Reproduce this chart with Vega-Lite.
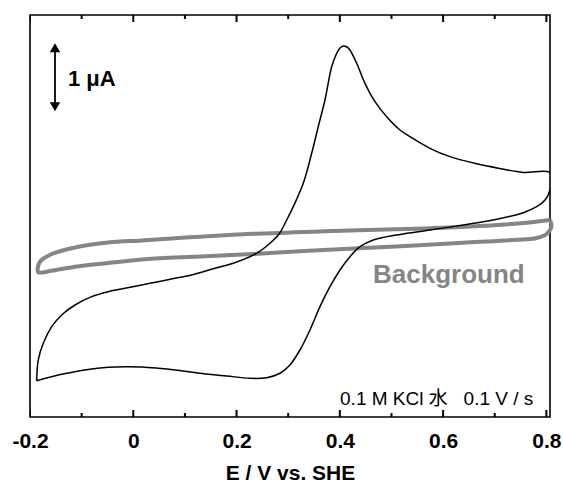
{
  "$schema": "https://vega.github.io/schema/vega-lite/v6.json",
  "width": 520,
  "height": 402,
  "autosize": {"type": "none"},
  "padding": {"left": 30, "top": 15, "right": 13, "bottom": 66},
  "background": "white",
  "config": {
    "font": "Liberation Sans",
    "view": {"stroke": "#000", "strokeWidth": 1.6},
    "axis": {"domain": false, "grid": false}
  },
  "datasets": {
    "cv": [
      {"o": 1, "E": -0.1871, "I": -1.822}, {"o": 2, "E": -0.1840, "I": -1.522}, {"o": 3, "E": -0.1743, "I": -1.280},
      {"o": 4, "E": -0.1580, "I": -1.039}, {"o": 5, "E": -0.1387, "I": -0.870}, {"o": 6, "E": -0.1129, "I": -0.725},
      {"o": 7, "E": -0.0806, "I": -0.604}, {"o": 8, "E": -0.0484, "I": -0.532}, {"o": 9, "E": -0.0161, "I": -0.483},
      {"o": 10, "E": 0.0163, "I": -0.435}, {"o": 11, "E": 0.0484, "I": -0.387}, {"o": 12, "E": 0.0808, "I": -0.338},
      {"o": 13, "E": 0.1131, "I": -0.290}, {"o": 14, "E": 0.1582, "I": -0.193}, {"o": 15, "E": 0.1936, "I": -0.120},
      {"o": 16, "E": 0.2389, "I": 0.025}, {"o": 17, "E": 0.2647, "I": 0.170}, {"o": 18, "E": 0.2822, "I": 0.304},
      {"o": 19, "E": 0.2971, "I": 0.507}, {"o": 20, "E": 0.3098, "I": 0.700}, {"o": 21, "E": 0.3292, "I": 1.039},
      {"o": 22, "E": 0.3455, "I": 1.474}, {"o": 23, "E": 0.3582, "I": 1.859}, {"o": 24, "E": 0.3712, "I": 2.246},
      {"o": 25, "E": 0.3842, "I": 2.729}, {"o": 26, "E": 0.3939, "I": 2.923}, {"o": 27, "E": 0.4003, "I": 3.000},
      {"o": 28, "E": 0.4067, "I": 3.029}, {"o": 29, "E": 0.4138, "I": 3.014}, {"o": 30, "E": 0.4196, "I": 2.971},
      {"o": 31, "E": 0.4326, "I": 2.778}, {"o": 32, "E": 0.4487, "I": 2.488}, {"o": 33, "E": 0.4681, "I": 2.222},
      {"o": 34, "E": 0.4907, "I": 2.004}, {"o": 35, "E": 0.5165, "I": 1.812}, {"o": 36, "E": 0.5358, "I": 1.714},
      {"o": 37, "E": 0.5745, "I": 1.546}, {"o": 38, "E": 0.6133, "I": 1.425}, {"o": 39, "E": 0.6650, "I": 1.322},
      {"o": 40, "E": 0.7101, "I": 1.254}, {"o": 41, "E": 0.7552, "I": 1.196}, {"o": 42, "E": 0.8069, "I": 1.193},
      {"o": 43, "E": 0.8069, "I": 0.942}, {"o": 44, "E": 0.7974, "I": 0.797}, {"o": 45, "E": 0.7812, "I": 0.700},
      {"o": 46, "E": 0.7552, "I": 0.613}, {"o": 47, "E": 0.7037, "I": 0.517}, {"o": 48, "E": 0.6390, "I": 0.435},
      {"o": 49, "E": 0.5746, "I": 0.362}, {"o": 50, "E": 0.5101, "I": 0.290}, {"o": 51, "E": 0.4648, "I": 0.217},
      {"o": 52, "E": 0.4390, "I": 0.120}, {"o": 53, "E": 0.4196, "I": -0.025}, {"o": 54, "E": 0.4003, "I": -0.217},
      {"o": 55, "E": 0.3809, "I": -0.459}, {"o": 56, "E": 0.3615, "I": -0.749}, {"o": 57, "E": 0.3422, "I": -1.087},
      {"o": 58, "E": 0.3228, "I": -1.377}, {"o": 59, "E": 0.3034, "I": -1.594}, {"o": 60, "E": 0.2841, "I": -1.714},
      {"o": 61, "E": 0.2583, "I": -1.778}, {"o": 62, "E": 0.2260, "I": -1.787}, {"o": 63, "E": 0.1809, "I": -1.754},
      {"o": 64, "E": 0.1292, "I": -1.714}, {"o": 65, "E": 0.0808, "I": -1.667}, {"o": 66, "E": 0.0484, "I": -1.642},
      {"o": 67, "E": 0.0163, "I": -1.623}, {"o": 68, "E": -0.0161, "I": -1.619}, {"o": 69, "E": -0.0484, "I": -1.628},
      {"o": 70, "E": -0.0806, "I": -1.652}, {"o": 71, "E": -0.1129, "I": -1.691}, {"o": 72, "E": -0.1452, "I": -1.739},
      {"o": 73, "E": -0.1871, "I": -1.822}
    ],
    "bg": [
      {"o": 1, "E": 0.8069, "I": 0.507}, {"o": 2, "E": 0.7508, "I": 0.459}, {"o": 3, "E": 0.6462, "I": 0.410},
      {"o": 4, "E": 0.5077, "I": 0.372}, {"o": 5, "E": 0.3685, "I": 0.343}, {"o": 6, "E": 0.2299, "I": 0.307},
      {"o": 7, "E": 0.1292, "I": 0.265}, {"o": 8, "E": 0.0808, "I": 0.242}, {"o": 9, "E": 0.0163, "I": 0.210},
      {"o": 10, "E": -0.0484, "I": 0.181}, {"o": 11, "E": -0.1129, "I": 0.109}, {"o": 12, "E": -0.1580, "I": 0.014},
      {"o": 13, "E": -0.1807, "I": -0.097}, {"o": 14, "E": -0.1850, "I": -0.193}, {"o": 15, "E": -0.1840, "I": -0.251},
      {"o": 16, "E": -0.1580, "I": -0.228}, {"o": 17, "E": -0.1129, "I": -0.170}, {"o": 18, "E": -0.0484, "I": -0.116},
      {"o": 19, "E": 0.0163, "I": -0.065}, {"o": 20, "E": 0.0808, "I": -0.036}, {"o": 21, "E": 0.1292, "I": -0.022},
      {"o": 22, "E": 0.2299, "I": 0.014}, {"o": 23, "E": 0.3685, "I": 0.072}, {"o": 24, "E": 0.5077, "I": 0.123},
      {"o": 25, "E": 0.6462, "I": 0.181}, {"o": 26, "E": 0.7508, "I": 0.225}, {"o": 27, "E": 0.7812, "I": 0.246},
      {"o": 28, "E": 0.8006, "I": 0.304}, {"o": 29, "E": 0.8099, "I": 0.420}, {"o": 30, "E": 0.8069, "I": 0.507}
    ],
    "ticks": [
      {"E": -0.2, "kind": "major"}, {"E": -0.1, "kind": "minor"}, {"E": 0, "kind": "major"}, {"E": 0.1, "kind": "minor"},
      {"E": 0.2, "kind": "major"}, {"E": 0.3, "kind": "minor"}, {"E": 0.4, "kind": "major"}, {"E": 0.5, "kind": "minor"},
      {"E": 0.6, "kind": "major"}, {"E": 0.7, "kind": "minor"}, {"E": 0.8, "kind": "major"}
    ],
    "bar": [{"E": -0.1516, "I": 2.149, "I2": 3.004}],
    "heads": [{"E": -0.1516, "I": 3.004, "s": "triangle-up"}, {"E": -0.1516, "I": 2.149, "s": "triangle-down"}],
    "lab1": [{"E": -0.1265, "I": 2.449, "t": "1 μA"}],
    "lab2": [{"E": 0.4643, "I": -0.410, "t": "Background"}],
    "lab3": [{"E": 0.7746, "I": -2.174, "t": "0.1 M KCl 水 \u00a0\u00a00.1 V / s"}]
  },
  "layer": [
    {
      "data": {"name": "bg"},
      "mark": {"type": "line", "stroke": "#858585", "strokeWidth": 4, "interpolate": "catmull-rom", "strokeJoin": "round"},
      "encoding": {
        "x": {
          "field": "E", "type": "quantitative",
          "scale": {"domain": [-0.2, 0.807], "nice": false, "zero": false},
          "axis": {
            "orient": "bottom", "ticks": false,
            "values": [-0.2, 0, 0.2, 0.4, 0.6, 0.8],
            "labelExpr": "datum.value == 0 ? '0' : replace(format(datum.value, '.1f'), '\u2212', '-')",
            "labelFlush": false, "labelOverlap": false, "labelBound": false,
            "labelFont": "Liberation Sans", "labelFontSize": 21, "labelFontWeight": "bold", "labelColor": "#000",
            "labelPadding": 13,
            "title": "E / V vs. SHE",
            "titleFont": "Liberation Sans", "titleFontSize": 21, "titleFontWeight": "bold", "titleColor": "#000",
            "titlePadding": 11
          }
        },
        "y": {"field": "I", "type": "quantitative", "scale": {"domain": [-2.348, 3.478], "nice": false, "zero": false}, "axis": null},
        "order": {"field": "o", "type": "quantitative"}
      }
    },
    {
      "data": {"name": "cv"},
      "mark": {"type": "line", "stroke": "#000", "strokeWidth": 1.5, "interpolate": "catmull-rom", "clip": true},
      "encoding": {
        "x": {"field": "E", "type": "quantitative"},
        "y": {"field": "I", "type": "quantitative"},
        "order": {"field": "o", "type": "quantitative"}
      }
    },
    {
      "data": {"name": "ticks"},
      "mark": {"type": "tick", "orient": "vertical", "color": "#000", "thickness": 2, "opacity": 1, "clip": true},
      "encoding": {
        "x": {"field": "E", "type": "quantitative"},
        "y": {"datum": -2.348, "type": "quantitative"},
        "size": {"field": "kind", "type": "nominal", "scale": {"domain": ["major", "minor"], "range": [14, 8]}, "legend": null}
      }
    },
    {
      "data": {"name": "ticks"},
      "mark": {"type": "tick", "orient": "vertical", "color": "#000", "thickness": 2, "opacity": 1, "clip": true},
      "encoding": {
        "x": {"field": "E", "type": "quantitative"},
        "y": {"datum": 3.478, "type": "quantitative"},
        "size": {"field": "kind", "type": "nominal", "scale": {"domain": ["major", "minor"], "range": [14, 8]}, "legend": null}
      }
    },
    {
      "data": {"name": "bar"},
      "mark": {"type": "rule", "stroke": "#000", "strokeWidth": 1.8},
      "encoding": {
        "x": {"field": "E", "type": "quantitative"},
        "y": {"field": "I", "type": "quantitative"},
        "y2": {"field": "I2"}
      }
    },
    {
      "data": {"name": "heads"},
      "mark": {"type": "point", "filled": true, "color": "#000", "opacity": 1, "size": 110},
      "encoding": {
        "x": {"field": "E", "type": "quantitative"},
        "y": {"field": "I", "type": "quantitative"},
        "shape": {"field": "s", "type": "nominal", "scale": null, "legend": null}
      }
    },
    {
      "data": {"name": "lab1"},
      "mark": {"type": "text", "align": "left", "baseline": "alphabetic", "font": "Liberation Sans", "fontSize": 22, "fontWeight": "bold", "color": "#000"},
      "encoding": {
        "x": {"field": "E", "type": "quantitative"},
        "y": {"field": "I", "type": "quantitative"},
        "text": {"field": "t"}
      }
    },
    {
      "data": {"name": "lab2"},
      "mark": {"type": "text", "align": "left", "baseline": "alphabetic", "font": "Liberation Sans", "fontSize": 26, "fontWeight": "bold", "color": "#858585"},
      "encoding": {
        "x": {"field": "E", "type": "quantitative"},
        "y": {"field": "I", "type": "quantitative"},
        "text": {"field": "t"}
      }
    },
    {
      "data": {"name": "lab3"},
      "mark": {"type": "text", "align": "right", "baseline": "alphabetic", "font": "Liberation Sans, Noto Sans CJK JP", "fontSize": 19, "color": "#000"},
      "encoding": {
        "x": {"field": "E", "type": "quantitative"},
        "y": {"field": "I", "type": "quantitative"},
        "text": {"field": "t"}
      }
    }
  ]
}
